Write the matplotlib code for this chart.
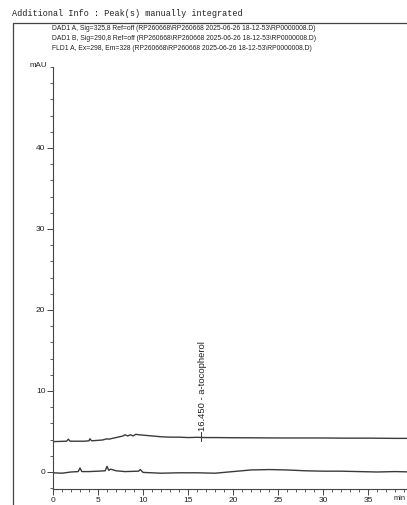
import matplotlib
matplotlib.use("Agg")
import matplotlib.pyplot as plt
from matplotlib.ticker import MultipleLocator
from matplotlib.patches import Rectangle
from matplotlib import font_manager

# ---------------- data ----------------
title_text = "Additional Info : Peak(s) manually integrated"
legend_lines = [
    "DAD1 A, Sig=325,8 Ref=off (RP260668\\RP260668 2025-06-26 18-12-53\\RP0000008.D)",
    "DAD1 B, Sig=290,8 Ref=off (RP260668\\RP260668 2025-06-26 18-12-53\\RP0000008.D)",
    "FLD1 A, Ex=298, Em=328 (RP260668\\RP260668 2025-06-26 18-12-53\\RP0000008.D)",
]

t_upper = [0, 1.5, 1.7, 1.9, 3.5, 4.0, 4.1, 4.3, 5.5, 6.0, 6.2, 7.0, 7.8, 8.0,
           8.3, 8.6, 8.9, 9.2, 9.5, 10.0, 11, 12, 13, 14, 15, 16, 17, 18, 20,
           22, 25, 28, 30, 32, 35, 38, 40]
v_upper = [3.75, 3.8, 4.05, 3.8, 3.8, 3.85, 4.1, 3.85, 3.95, 4.1, 4.05, 4.25,
           4.45, 4.6, 4.45, 4.6, 4.45, 4.65, 4.6, 4.55, 4.45, 4.35, 4.3, 4.3,
           4.25, 4.28, 4.25, 4.25, 4.23, 4.22, 4.2, 4.2, 4.2, 4.18, 4.18, 4.15,
           4.15]

t_lower = [0, 1, 2, 2.8, 3.0, 3.2, 4, 5, 5.8, 6.0, 6.2, 6.4, 7, 8, 9.5, 9.7,
           10, 12, 14, 16, 18, 19, 20, 21, 22, 24, 26, 28, 30, 32, 34, 36, 38, 40]
v_lower = [-0.1, -0.15, 0.0, 0.05, 0.5, 0.05, 0.05, 0.1, 0.15, 0.7, 0.2, 0.35,
           0.15, 0.05, 0.1, 0.3, -0.05, -0.15, -0.1, -0.1, -0.15, -0.05, 0.05,
           0.15, 0.25, 0.3, 0.25, 0.15, 0.1, 0.1, 0.05, 0.0, 0.05, 0.0]

peak_rt = 16.45
peak_label = "16.450 - a-tocopherol"
peak_base = 4.27

y_ticks = [0, 10, 20, 30, 40]
x_ticks = [0, 5, 10, 15, 20, 25, 30, 35]

# ---------------- fonts ----------------
names = {f.name for f in font_manager.fontManager.ttflist}
narrow = "Liberation Sans Narrow" if "Liberation Sans Narrow" in names else "Liberation Sans"
mono = "Liberation Mono" if "Liberation Mono" in names else "DejaVu Sans Mono"

W, H = 407, 505
fig = plt.figure(figsize=(W / 100, H / 100), dpi=100)

def fx(px):
    return px / W

def fy(py):
    return 1 - py / H

# outer frame
fig.patches.append(Rectangle((fx(13), fy(520)), fx(420) - fx(13), fy(23) - fy(520),
                             transform=fig.transFigure, fill=False,
                             edgecolor="#444444", linewidth=0.9))

fig.text(fx(12), fy(14), title_text, family=mono, fontsize=6.15,
         color="#222222", va="center", ha="left")
for i, line in enumerate(legend_lines):
    fig.text(fx(52), fy(28 + 10 * i), line, family=narrow, fontsize=4.85,
             color="#222222", va="center", ha="left")

# axes: x 0..40 mapped 53..413 px, y -2..50 mapped 488..67 px
x0, x1 = 53, 413
y_top, y_bot = 67, 489
ax = fig.add_axes([fx(x0), fy(y_bot), fx(x1) - fx(x0), fy(y_top) - fy(y_bot)])
ax.set_xlim(0, 40)
ax.set_ylim(-2.1, 50)
ax.patch.set_alpha(0)
for s in ["top", "right"]:
    ax.spines[s].set_visible(False)
for s in ["left", "bottom"]:
    ax.spines[s].set_color("#444444")
    ax.spines[s].set_linewidth(0.8)

ax.set_yticks(y_ticks)
ax.set_xticks(x_ticks)
ax.yaxis.set_minor_locator(MultipleLocator(2))
ax.xaxis.set_minor_locator(MultipleLocator(1))
ax.tick_params(which="major", length=4, width=0.7, color="#444444",
               labelsize=6, labelcolor="#222222", pad=1.5)
ax.tick_params(which="minor", length=2.5, width=0.6, color="#444444")
for lab in ax.get_xticklabels() + ax.get_yticklabels():
    lab.set_family(narrow)

ax.text(-0.6, 50.2, "mAU", family=narrow, fontsize=5.8, color="#222222",
        ha="right", va="center", clip_on=False)
fig.text(fx(406), fy(499), "min", family=narrow, fontsize=5.4, color="#222222",
         ha="right", va="center")

ax.plot(t_upper, v_upper, color="#3a3a3a", linewidth=1.0)
ax.plot(t_lower, v_lower, color="#3a3a3a", linewidth=1.0)

# peak annotation
ax.plot([peak_rt, peak_rt], [peak_base, peak_base + 0.7], color="#3a3a3a", linewidth=0.7)
ax.plot([peak_rt, peak_rt], [peak_base, peak_base - 0.4], color="#3a3a3a", linewidth=0.7)
ax.text(peak_rt + 0.2, peak_base + 0.75, peak_label, rotation=90, family=narrow,
        fontsize=6.8, color="#222222", ha="center", va="bottom")

fig.savefig("out.png", dpi=100)
